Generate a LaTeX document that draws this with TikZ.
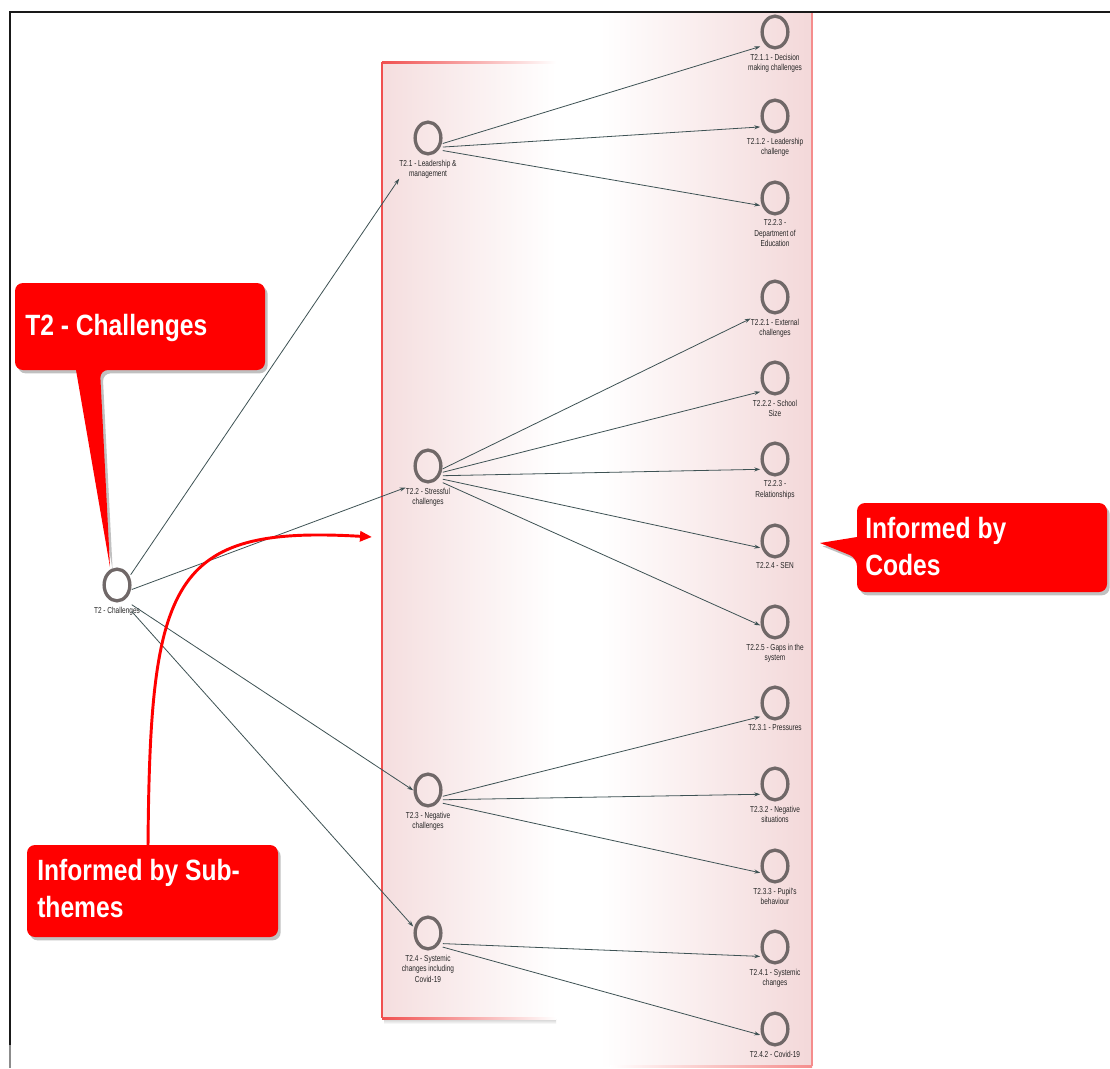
\documentclass[tikz,border=0pt]{standalone}
\usepackage{fontspec}
\setmainfont{Liberation Sans}
\newfontfamily\nodefont[FakeStretch=0.75]{Liberation Sans}
\newfontfamily\calloutfont[FakeStretch=0.84]{Liberation Sans}
\usetikzlibrary{arrows.meta,shadows,shapes.geometric}
\definecolor{pinkfill}{RGB}{243,216,217}
\definecolor{boxred}{RGB}{240,80,80}
\definecolor{ringgray}{RGB}{112,104,104}
\definecolor{edgecol}{RGB}{62,82,84}
\definecolor{callred}{RGB}{255,0,0}

% one graph node: ring, caption below it, and an invisible hit box for the edges
\newcommand\gnode[3]{%
  \node[ring] (#1) at (#2) {};
  \node[lbl] (#1l) at ([yshift=-3pt]#1.south) {#3};
  \node[hit] (#1h) at ([yshift=-7.5pt]#1.center) {};
}

\begin{document}
\begin{tikzpicture}[x=0.75pt,y=-0.75pt,
  ring/.style={ellipse, draw=ringgray, line width=2.5pt, minimum width=19.3pt,
    minimum height=23.8pt, inner sep=0pt},
  lbl/.style={anchor=north, inner sep=0pt, align=center, text=black!85,
    font=\nodefont\fontsize{6.5}{7.9}\selectfont},
  hit/.style={rectangle, minimum width=21.75pt, minimum height=30pt, inner sep=0pt},
  edge/.style={draw=edgecol, line width=0.6pt, -{Stealth[length=4.5pt,width=3pt]}},
  callout/.style={fill=callred, drop shadow={shadow xshift=2pt, shadow yshift=-2.5pt,
    opacity=0.35, fill=black!70}},
  calltext/.style={anchor=north west, inner sep=0pt, align=left, text=white,
    font=\calloutfont\bfseries\fontsize{22}{28}\selectfont},
]
\useasboundingbox (0,0) rectangle (1110,1068);
\fill[white] (0,0) rectangle (1110,1068);

% shaded panels behind the sub-themes and the codes
\shade[left color=pinkfill!85, right color=white] (382,62) rectangle (556,1018);
\shade[top color=black!18, bottom color=white] (384,1019) rectangle (556,1024);
\shade[left color=white, right color=pinkfill] (600,13) rectangle (812,1066);
\draw[boxred, line width=1.4pt] (382,62) -- (382,1018);
\shade[left color=boxred, right color=white] (382,61) rectangle (556,63);
\shade[left color=boxred, right color=white] (382,1017) rectangle (556,1019);
\draw[boxred!65, line width=1.4pt] (812,13) -- (812,1066);
\shade[left color=white, right color=boxred!65] (610,1065) rectangle (812,1067);

% frame
\draw[black!90, line width=1.9pt] (10,1045) -- (10,12) -- (1110,12);
\draw[black!45, line width=1.9pt] (10,1045) -- (10,1068);

% theme
\gnode{t2}{117,585}{T2 - Challenges}
% sub-themes
\gnode{t21}{428,138}{T2.1 - Leadership \&\\management}
\gnode{t22}{428,466}{T2.2 - Stressful\\challenges}
\gnode{t23}{428,790}{T2.3 - Negative\\challenges}
\gnode{t24}{428,933}{T2.4 - Systemic\\changes including\\Covid-19}
% codes
\gnode{t211}{775,32}{T2.1.1 - Decision\\making challenges}
\gnode{t212}{775,116}{T2.1.2 - Leadership\\challenge}
\gnode{t213}{775,198}{T2.2.3 -\\Department of\\Education}
\gnode{t221}{775,297}{T2.2.1 - External\\challenges}
\gnode{t222}{775,378}{T2.2.2 - School\\Size}
\gnode{t223}{775,459}{T2.2.3 -\\Relationships}
\gnode{t224}{775,541}{T2.2.4 - SEN}
\gnode{t225}{775,622}{T2.2.5 - Gaps in the\\system}
\gnode{t231}{775,703}{T2.3.1 - Pressures}
\gnode{t232}{775,784}{T2.3.2 - Negative\\situations}
\gnode{t233}{775,866}{T2.3.3 - Pupil's\\behaviour}
\gnode{t241}{775,947}{T2.4.1 - Systemic\\changes}
\gnode{t242}{775,1029}{T2.4.2 - Covid-19}

% connectors
\draw[edge] (t2h) -- (t21l.south west);
\draw[edge] (t2h) -- (t22l.north west);
\draw[edge] (t2h) -- (t23h);
\draw[edge] (t2h) -- (t24h);
\draw[edge] (t21h) -- (t211h);
\draw[edge] (t21h) -- (t212h);
\draw[edge] (t21h) -- (t213h);
\draw[edge] (t22h) -- (t221l.north west);
\draw[edge] (t22h) -- (t222h);
\draw[edge] (t22h) -- (t223h);
\draw[edge] (t22h) -- (t224h);
\draw[edge] (t22h) -- (t225h);
\draw[edge] (t23h) -- (t231h);
\draw[edge] (t23h) -- (t232h);
\draw[edge] (t23h) -- (t233h);
\draw[edge] (t24h) -- (t241h);
\draw[edge] (t24h) -- (t242h);

% callout: theme
\fill[callout] [rounded corners=6pt] (15,283) -- (265,283) -- (265,370) -- (100,370)
  [sharp corners] -- (110,567) -- (76,370) [rounded corners=6pt] -- (15,370) -- cycle;
\node[calltext] (ca) at (25,314) {T2 - Challenges};

% callout: sub-themes
\fill[callout, rounded corners=6pt] (27,845) rectangle (278,937);
\draw[callred, line width=2.2pt, -{Triangle[length=9pt,width=7.5pt]}]
  (148,847) .. controls (150,580) and (170,525) .. (372,537);
\node[calltext] (cb) at (37,859) {Informed by Sub-\\themes};

% callout: codes
\fill[callout] [rounded corners=6pt] (857,503) -- (1107,503) -- (1107,592) -- (857,592)
  -- (857,558) [sharp corners] -- (820,543) -- (857,537) [rounded corners=6pt] -- cycle;
\node[calltext] (cc) at (865,517) {Informed by\\Codes};
\end{tikzpicture}
\end{document}
